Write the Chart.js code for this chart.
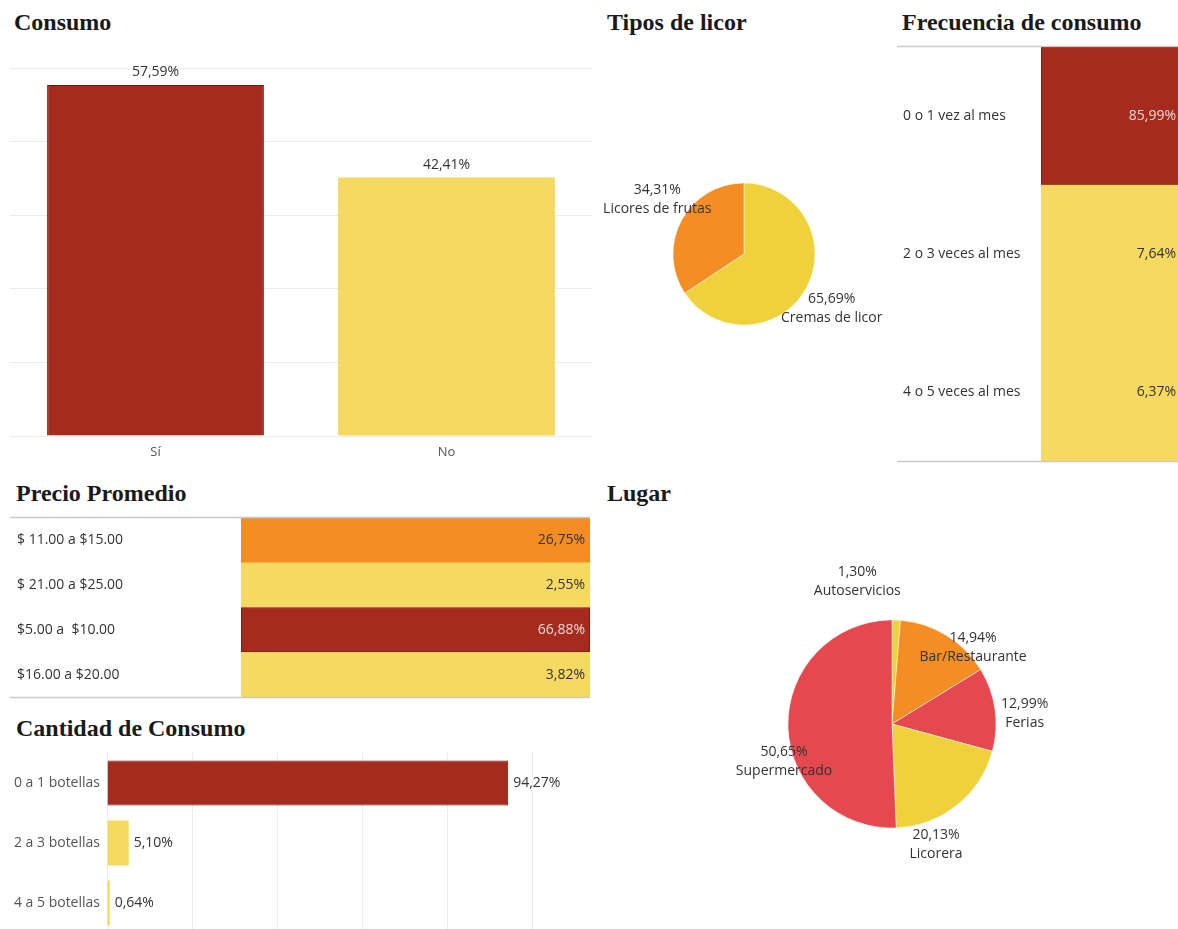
<!DOCTYPE html>
<html>
<head>
<meta charset="utf-8">
<script src="https://cdn.jsdelivr.net/npm/chart.js@4.4.1/dist/chart.umd.min.js"></script>
<style>
html, body { margin: 0; padding: 0; width: 1178px; height: 929px; overflow: hidden; background: #fff; }
.title { position: absolute; font-family: "Liberation Serif", "Times New Roman", serif; font-weight: bold; font-size: 24px; line-height: 24px; color: #1a1a1a; white-space: nowrap; }
canvas { position: absolute; }
</style>
</head>
<body>
<div class="title" style="left:14px;top:10px">Consumo</div>
<div class="title" style="left:607px;top:10px">Tipos de licor</div>
<div class="title" style="left:902px;top:10px">Frecuencia de consumo</div>
<div class="title" style="left:16px;top:481px">Precio Promedio</div>
<div class="title" style="left:607px;top:481px">Lugar</div>
<div class="title" style="left:16px;top:716px">Cantidad de Consumo</div>

<canvas id="cvConsumo" width="582" height="402" style="left:10px;top:60px"></canvas>
<canvas id="cvTipos" width="300" height="260" style="left:594px;top:124px"></canvas>
<canvas id="cvFrecuencia" width="284" height="424" style="left:897px;top:41px"></canvas>
<canvas id="cvPrecio" width="580" height="189" style="left:10px;top:512px"></canvas>
<canvas id="cvLugar" width="500" height="340" style="left:642px;top:554px"></canvas>
<canvas id="cvCantidad" width="580" height="180" style="left:10px;top:753px"></canvas>

<script>
// datos
const consumoLabels = ['Sí', 'No']
const consumoValues = [57.59, 42.41]

const tiposLabels = ['Cremas de licor', 'Licores de frutas']
const tiposValues = [65.69, 34.31]

const freqLabels = ['0 o 1 vez al mes', '2 o 3 veces al mes', '4 o 5 veces al mes']
const freqValues = [85.99, 7.64, 6.37]

const precioLabels = ['$ 11.00 a $15.00', '$ 21.00 a $25.00', '$5.00 a  $10.00', '$16.00 a $20.00']
const precioValues = [26.75, 2.55, 66.88, 3.82]

const lugarLabels = ['Autoservicios', 'Bar/Restaurante', 'Ferias', 'Licorera', 'Supermercado']
const lugarValues = [1.30, 14.94, 12.99, 20.13, 50.65]

const cantidadLabels = ['0 a 1 botellas', '2 a 3 botellas', '4 a 5 botellas']
const cantidadValues = [94.27, 5.10, 0.64]

// colores
const RED = '#a52b1e'
const RED_BORDER = '#6d1a10'
const YELLOW = '#f6d961'
const ORANGE = '#f48d23'
const PIE_YELLOW = '#efd23b'
const PIE_RED = '#e6484f'
const FONT = '"Open Sans", "DejaVu Sans", sans-serif'

const consumoColors = [RED, YELLOW]
const freqColors = [RED, YELLOW, YELLOW]
const precioColors = [ORANGE, YELLOW, RED, YELLOW]
const cantidadColors = [RED, YELLOW, YELLOW]
const tiposColors = [PIE_YELLOW, ORANGE]
const lugarColors = [PIE_YELLOW, ORANGE, PIE_RED, PIE_YELLOW, PIE_RED]

// posicion de etiquetas de pie (ajuste fino)
const tiposNudge = [[-3, 6], [4, -6]]
const lugarNudge = [[-40, -13], [13, 34], [4, 8], [-37, 19], [22, 35]]

Chart.defaults.font.family = FONT
Chart.defaults.animation = false

function pct(v) {
    return v.toFixed(2).replace('.', ',') + '%'
}

function borderFor(colors) {
    return colors.map(c => c === RED ? RED_BORDER : c)
}
function borderWFor(colors) {
    return colors.map(c => c === RED ? 1 : 0)
}

// eje de categorias vertical: ancho fijo y sin relleno extra arriba/abajo
function fixYAxis(width) {
    return s => {
        s.width = width
        s.paddingTop = 0
        s.paddingBottom = 0
    }
}

const baseOpts = {
    responsive: false,
    plugins: { legend: { display: false }, tooltip: { enabled: false } }
}

// etiqueta encima de barra
const labelTop = {
    id: 'labelTop',
    afterDatasetsDraw(chart) {
        const ctx = chart.ctx
        const vals = chart.data.datasets[0].data
        ctx.save()
        ctx.font = '14px ' + FONT
        ctx.fillStyle = '#333'
        ctx.textAlign = 'center'
        ctx.textBaseline = 'middle'
        chart.getDatasetMeta(0).data.forEach((bar, i) => {
            ctx.fillText(pct(vals[i]), bar.x, bar.y - 13)
        })
        ctx.restore()
    }
}

// etiqueta al final de barra horizontal
const labelEnd = {
    id: 'labelEnd',
    afterDatasetsDraw(chart) {
        const ctx = chart.ctx
        const vals = chart.data.datasets[0].data
        ctx.save()
        ctx.font = '14px ' + FONT
        ctx.fillStyle = '#333'
        ctx.textAlign = 'left'
        ctx.textBaseline = 'middle'
        chart.getDatasetMeta(0).data.forEach((bar, i) => {
            ctx.fillText(pct(vals[i]), bar.x + 5, bar.y)
        })
        ctx.restore()
    }
}

// texto dentro de la celda + lineas arriba/abajo
function cellPlugin(values, colors) {
    return {
        id: 'cellText',
        afterDatasetsDraw(chart) {
            const ctx = chart.ctx
            const area = chart.chartArea
            ctx.save()
            ctx.font = '14px ' + FONT
            ctx.textAlign = 'right'
            ctx.textBaseline = 'middle'
            chart.getDatasetMeta(0).data.forEach((bar, i) => {
                ctx.fillStyle = colors[i] === RED ? '#f6d8d2' : '#333'
                ctx.fillText(pct(values[i]), bar.x - 5, bar.y)
            })
            ctx.strokeStyle = '#c9c9c9'
            ctx.lineWidth = 1.5
            ctx.beginPath()
            ctx.moveTo(0, area.top - 0.5)
            ctx.lineTo(chart.width, area.top - 0.5)
            ctx.moveTo(0, area.bottom + 0.5)
            ctx.lineTo(chart.width, area.bottom + 0.5)
            ctx.stroke()
            ctx.restore()
        }
    }
}

// etiquetas de pie: porcentaje + nombre
function pieLabels(values, labels, k, nudge) {
    return {
        id: 'pieLabels',
        afterDatasetsDraw(chart) {
            const ctx = chart.ctx
            ctx.save()
            ctx.font = '14px ' + FONT
            ctx.fillStyle = '#333'
            ctx.textAlign = 'center'
            ctx.textBaseline = 'middle'
            chart.getDatasetMeta(0).data.forEach((arc, i) => {
                const p = arc.getProps(['x', 'y', 'startAngle', 'endAngle', 'outerRadius'])
                const mid = (p.startAngle + p.endAngle) / 2
                const lx = p.x + Math.cos(mid) * p.outerRadius * k + nudge[i][0]
                const ly = p.y + Math.sin(mid) * p.outerRadius * k + nudge[i][1]
                ctx.fillText(pct(values[i]), lx, ly - 9.5)
                ctx.fillText(labels[i], lx, ly + 9.5)
            })
            ctx.restore()
        }
    }
}

// Consumo
new Chart(document.getElementById('cvConsumo'), {
    type: 'bar',
    data: {
        labels: consumoLabels,
        datasets: [{
            data: consumoValues,
            backgroundColor: consumoColors,
            borderColor: borderFor(consumoColors),
            borderWidth: borderWFor(consumoColors),
            categoryPercentage: 1,
            barPercentage: 0.745
        }]
    },
    options: {
        ...baseOpts,
        layout: { padding: { top: 8 } },
        scales: {
            x: {
                grid: { display: false, drawTicks: false },
                border: { display: false },
                ticks: { color: '#555', font: { size: 13 }, padding: 8 },
                afterFit: s => { s.height = 26 }
            },
            y: {
                min: 0,
                max: 60.4,
                ticks: { display: false, count: 6 },
                grid: { color: '#ececec', drawTicks: false },
                border: { display: false },
                afterFit: s => { s.width = 0 }
            }
        }
    },
    plugins: [labelTop]
})

// Tipos de licor
new Chart(document.getElementById('cvTipos'), {
    type: 'pie',
    data: {
        labels: tiposLabels,
        datasets: [{
            data: tiposValues,
            backgroundColor: tiposColors,
            borderColor: 'rgba(255,255,255,0.5)',
            borderWidth: 1
        }]
    },
    options: { ...baseOpts, radius: 71 },
    plugins: [pieLabels(tiposValues, tiposLabels, 1.45, tiposNudge)]
})

// tablas resaltadas (celdas a todo el ancho de la columna)
function tableChart(id, labels, values, colors, padLeft, labelWidth) {
    return new Chart(document.getElementById(id), {
        type: 'bar',
        data: {
            labels: labels,
            datasets: [{
                data: values.map(() => [0, 1]),
                backgroundColor: colors,
                borderColor: borderFor(colors),
                borderWidth: borderWFor(colors),
                borderSkipped: false,
                categoryPercentage: 1,
                barPercentage: 1
            }]
        },
        options: {
            ...baseOpts,
            indexAxis: 'y',
            layout: { padding: { left: padLeft, top: 6, bottom: 4 } },
            scales: {
                x: { min: 0, max: 1, display: false },
                y: {
                    grid: { display: false, drawTicks: false },
                    border: { display: false },
                    ticks: { color: '#333', font: { size: 14 }, crossAlign: 'far', padding: 0 },
                    afterFit: fixYAxis(labelWidth)
                }
            }
        },
        plugins: [cellPlugin(values, colors)]
    })
}

tableChart('cvFrecuencia', freqLabels, freqValues, freqColors, 6, 138)
tableChart('cvPrecio', precioLabels, precioValues, precioColors, 7, 224)

// Lugar
new Chart(document.getElementById('cvLugar'), {
    type: 'pie',
    data: {
        labels: lugarLabels,
        datasets: [{
            data: lugarValues,
            backgroundColor: lugarColors,
            borderColor: 'rgba(255,255,255,0.5)',
            borderWidth: 1
        }]
    },
    options: { ...baseOpts, radius: 104 },
    plugins: [pieLabels(lugarValues, lugarLabels, 1.25, lugarNudge)]
})

// Cantidad de Consumo
new Chart(document.getElementById('cvCantidad'), {
    type: 'bar',
    data: {
        labels: cantidadLabels,
        datasets: [{
            data: cantidadValues,
            backgroundColor: cantidadColors,
            borderColor: borderFor(cantidadColors),
            borderWidth: borderWFor(cantidadColors),
            categoryPercentage: 1,
            barPercentage: 0.75
        }]
    },
    options: {
        ...baseOpts,
        indexAxis: 'y',
        scales: {
            x: {
                min: 0,
                max: 113.5,
                ticks: { display: false, stepSize: 20 },
                grid: { color: '#ececec', drawTicks: false },
                border: { display: false },
                afterFit: s => { s.height = 0 }
            },
            y: {
                grid: { display: false, drawTicks: false },
                border: { display: false },
                ticks: { color: '#555', font: { size: 14 }, padding: 7 },
                afterFit: fixYAxis(97)
            }
        }
    },
    plugins: [labelEnd]
})
</script>
</body>
</html>
